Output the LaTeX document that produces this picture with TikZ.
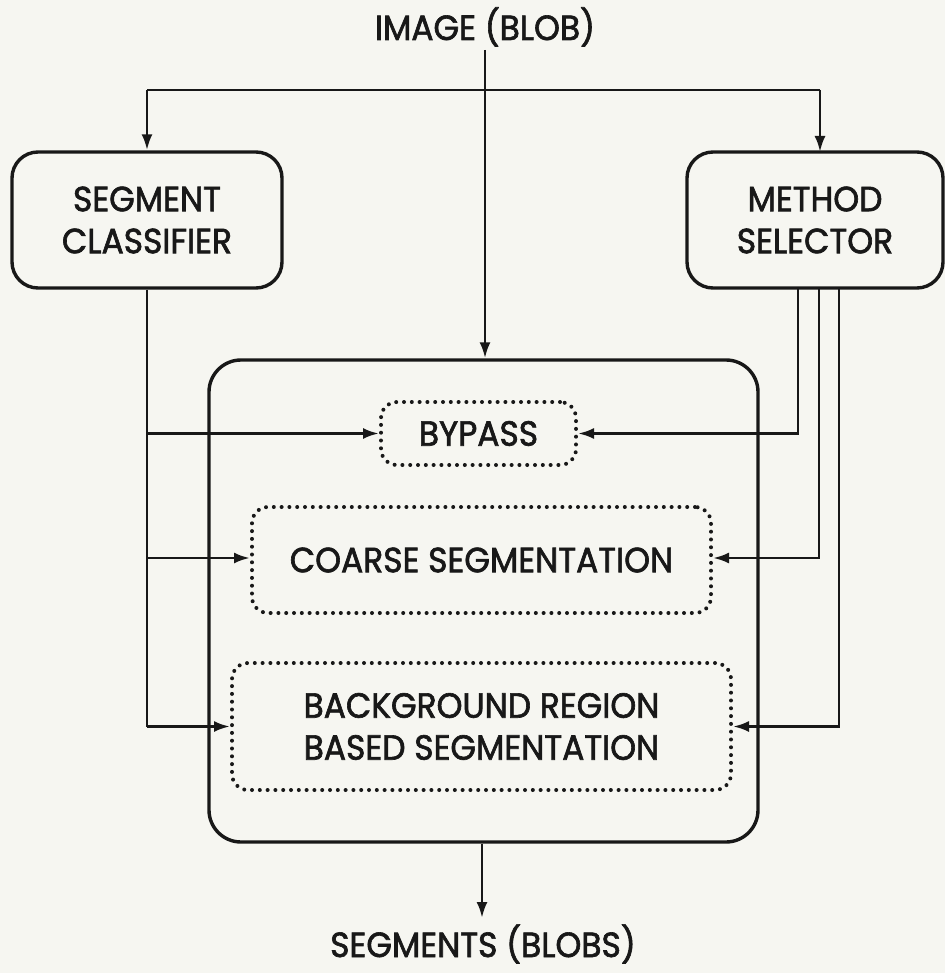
\documentclass[tikz,border=0pt]{standalone}
\usepackage{fontspec}
\setmainfont[FakeStretch=0.94,FakeBold=1.8]{Poppins}
\usetikzlibrary{arrows.meta}
\definecolor{paper}{RGB}{246,246,241}
\definecolor{ink}{RGB}{24,24,24}
\begin{document}
\begin{tikzpicture}[x=1pt,y=-1pt,
  every node/.style={font=\fontsize{35}{42}\selectfont, text=ink, align=center, inner sep=0pt},
  block/.style={draw=ink, line width=3.4pt, rounded corners=26pt},
  option/.style={draw=ink, line width=4pt, line cap=round, dash pattern=on 0pt off 7.8pt, rounded corners=16pt},
  flow/.style={draw=ink, line width=2.8pt},
  arr/.style={flow, -{Latex[length=16pt,width=11pt]}}]
  % page
  \fill[paper] (0,0) rectangle (945,973);
  \useasboundingbox (0,0) rectangle (945,973);

  % input and output labels
  \node[anchor=base] (img) at (485,40) {IMAGE (BLOB)};
  \node[anchor=base] (out) at (483,957) {SEGMENTS (BLOBS)};

  % side units
  \node[block, minimum width=270pt, minimum height=136pt] (cls) at (147,220) {SEGMENT\\CLASSIFIER};
  \node[block, minimum width=256pt, minimum height=136pt] (sel) at (815,220) {METHOD\\SELECTOR};

  % segmentation unit with its three methods
  \node[block, rounded corners=32pt, minimum width=549pt, minimum height=482pt] (main) at (483.5,601) {};
  \node[option, minimum width=195pt, minimum height=63pt] (byp) at (478.5,433.5) {BYPASS};
  \node[option, minimum width=459pt, minimum height=106pt] (coarse) at (481.5,560) {COARSE SEGMENTATION};
  \node[option, minimum width=499pt, minimum height=127pt] (bg) at (481.5,726.5) {BACKGROUND REGION\\BASED SEGMENTATION};

  % image distribution
  \coordinate (split) at (485,90);
  \coordinate (selin) at (820,152);
  \draw[arr] (img.south |- 0,50) -- (img.south |- main.north);
  \draw[flow] (split -| cls.north) -- (split -| selin);
  \draw[arr] (split -| cls.north) -- (cls.north);
  \draw[arr] (split -| selin) -- (selin);

  % classifier outputs
  \draw[flow] (cls.south) -- (cls.south |- bg.west);
  \draw[arr] (cls.south |- byp.west) -- (byp.west);
  \draw[arr] (cls.south |- 0,558) -- (coarse.west |- 0,558);
  \draw[arr] (cls.south |- bg.west) -- (bg.west);

  % selector outputs
  \coordinate (s1) at (798,287);
  \coordinate (s2) at (819,287);
  \coordinate (s3) at (839,287);
  \draw[arr] (s1) |- (byp.east);
  \draw[arr] (s2) |- (coarse.east |- 0,558);
  \draw[arr] (s3) |- (bg.east);

  % result
  \draw[arr] (main.south -| 482,0) -- (482,918);
\end{tikzpicture}
\end{document}
